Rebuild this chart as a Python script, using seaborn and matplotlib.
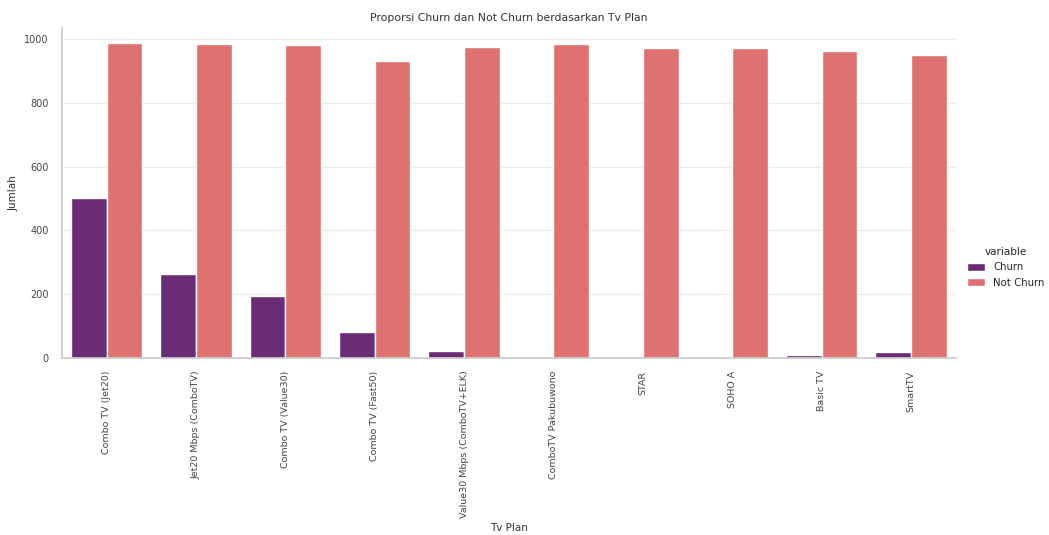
import pandas as pd
import matplotlib
matplotlib.use("Agg")
import matplotlib.pyplot as plt
import seaborn as sns

# values
tv_plans = ['Combo TV (Jet20)', 'Jet20 Mbps (ComboTV)', 'Combo TV (Value30)',
            'Combo TV (Fast50)', 'Value30 Mbps (ComboTV+ELK)', 'ComboTV Pakubuwono',
            'STAR', 'SOHO A', 'Basic TV', 'SmartTV']
churn = [502, 263, 195, 81, 23, 0, 3, 0, 9, 18]
not_churn = [986, 984, 981, 932, 976, 984, 973, 973, 962, 949]

df = pd.DataFrame({'Tv Plan': tv_plans, 'Churn': churn, 'Not Churn': not_churn})
df_long = df.melt(id_vars='Tv Plan', value_vars=['Churn', 'Not Churn'], value_name='Jumlah')

sns.set_theme(style='whitegrid')

g = sns.catplot(data=df_long, x='Tv Plan', y='Jumlah', hue='variable',
                kind='bar', palette='magma', height=4, aspect=2.2)
fig = g.figure
fig.set_size_inches(10.49, 5.35)
fig.subplots_adjust(left=0.059, right=0.911, top=0.948, bottom=0.331)

ax = g.ax
ax.set_ylim(0, 1035)
ax.set_title('Proporsi Churn dan Not Churn berdasarkan Tv Plan', fontsize=7.8, color='#333333', pad=5)
ax.set_xlabel('Tv Plan', fontsize=7.5, color='#333333')
ax.set_ylabel('Jumlah', fontsize=7.5, color='#333333')
ax.xaxis.set_label_coords(0.5, -0.5)
ax.tick_params(axis='x', labelrotation=90, labelsize=6.8, colors='#444444', pad=3)
ax.tick_params(axis='y', labelsize=7, colors='#444444')
ax.grid(axis='y', color='#ebebeb', linewidth=0.9)
ax.grid(axis='x', visible=False)
for sp in ax.spines.values():
    sp.set_color('#cccccc')

sns.move_legend(g, 'center left', bbox_to_anchor=(0.913, 0.5), fontsize=7.3,
                title_fontsize=7.5, frameon=False, handlelength=1.8)

fig.savefig('out.png', dpi=100)
